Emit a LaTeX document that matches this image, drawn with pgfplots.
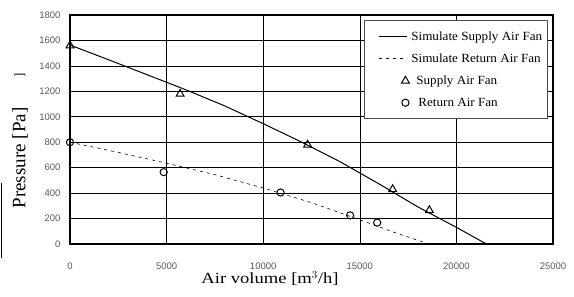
\documentclass[border=0pt]{standalone}
\usepackage{pgfplots}
\pgfplotsset{compat=1.18}
\usepackage{fontspec}
\setmainfont{Liberation Serif}
\newfontfamily\ticksf{Liberation Sans}
\newfontfamily\widefont[FakeStretch=1.2]{Liberation Serif}
\newfontfamily\legfont[FakeStretch=1.05]{Liberation Serif}
\pgfplotsset{
  mylinelegend/.style={legend image code/.code={\path[draw=none] (-12pt,0pt) -- (0pt,0pt); \draw[##1] (0pt,0pt) -- (28pt,0pt);}},
  mymarklegend/.style={legend image code/.code={\path[draw=none] (-12pt,0pt) -- (28pt,0pt); \draw[##1] plot coordinates {(26pt,0pt)};}},
}
\begin{document}
\begin{tikzpicture}[x=1pt,y=1pt]
\begin{axis}[
  name=ax,
  at={(70pt,53pt)}, anchor=south west,
  scale only axis, width=483pt, height=229pt,
  xmin=0, xmax=25000, ymin=0, ymax=1800,
  xtick={0,5000,10000,15000,20000,25000},
  ytick={0,200,400,600,800,1000,1200,1400,1600,1800},
  scaled x ticks=false,
  /pgf/number format/assume math mode=true,
  /pgf/number format/set thousands separator={},
  ticklabel style={font=\ticksf\fontsize{9.5}{11}\selectfont, text=black!65},
  xticklabel style={yshift=-15pt},
  yticklabel style={xshift=-6pt},
  grid=major,
  major grid style={black, line width=0.6pt},
  axis line style={line width=1.1pt},
  tick style={black, line width=0.6pt},
  major tick length=3pt,
  tick align=inside,
  legend style={at={(0.609,0.978)}, anchor=north west, draw=black!70, line width=0.6pt,
    font=\legfont\fontsize{12.5}{14}\selectfont, row sep=8pt, inner xsep=3pt, inner ysep=9pt, fill=white},
  legend cell align=left,
]
\addplot[black, line width=1pt, mylinelegend] coordinates {
 (0,1564) (2000,1448) (4000,1330) (6000,1212) (8000,1086) (10000,946)
 (12000,800) (14000,645) (16000,472) (18000,292) (20000,131) (21554,0)};
\addlegendentry{Simulate Supply Air Fan}
\addplot[black, line width=0.6pt, dash pattern=on 3pt off 4pt, mylinelegend] coordinates {
 (0,800) (2500,720) (5000,635) (7500,545) (10000,440) (12500,325)
 (15000,190) (17000,80) (18600,0)};
\addlegendentry{Simulate Return Air Fan}
\addplot[only marks, mark=triangle, mark size=4.5pt, black, mark options={line width=1pt, fill=white}, mymarklegend] coordinates {
 (0,1560) (5700,1180) (12300,780) (16700,430) (18600,265)};
\addlegendentry{\hspace{5pt}Supply Air Fan}
\addplot[only marks, mark=o, mark size=3.6pt, black, mark options={line width=1pt, fill=white}, mymarklegend] coordinates {
 (0,800) (4850,565) (10900,405) (14500,225) (15900,168)};
\addlegendentry{\hspace{7pt}Return Air Fan}
\end{axis}
\node[font=\widefont\fontsize{15.5}{18}\selectfont, anchor=base] at (270pt,13pt) {Air volume [m$^3$/h]};
\node[rotate=90, font=\fontsize{19}{21}\selectfont] at (20pt,139pt) {Pressure [Pa]};
\node[rotate=90, font=\fontsize{13}{15}\selectfont] at (20pt,222pt) {]};
\draw[line width=1.2pt] (1.5pt,39pt) -- (1.5pt,114pt);
\pgfresetboundingbox
\path[use as bounding box] (0,0) rectangle (574pt,297pt);
\end{tikzpicture}
\end{document}
